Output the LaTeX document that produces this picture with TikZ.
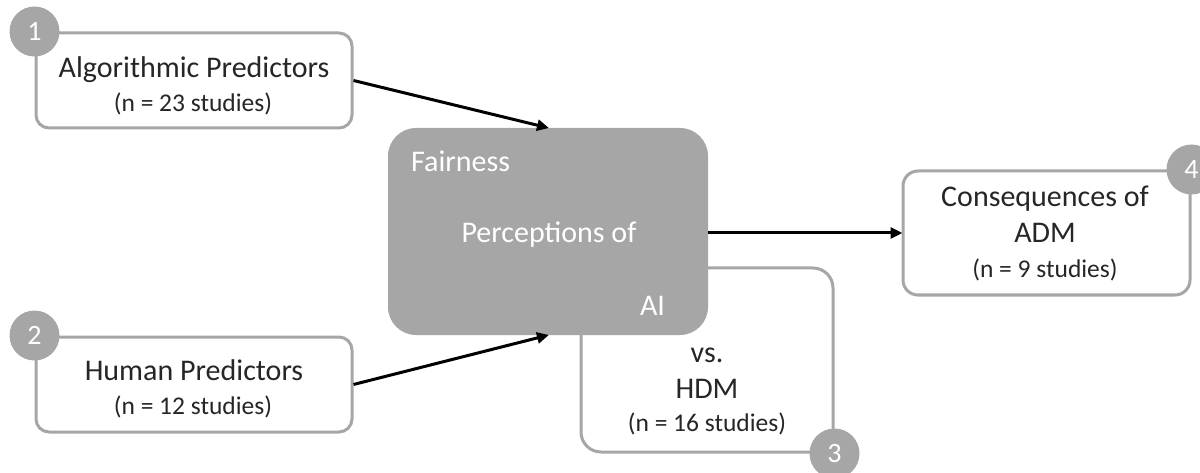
\documentclass[tikz,border=0pt]{standalone}
\usepackage{fontspec}
\setmainfont{Carlito}
\usetikzlibrary{arrows.meta}
\definecolor{boxgray}{HTML}{A6A6A6}
\definecolor{txt}{HTML}{262626}
\tikzset{
  gbox/.style={draw=boxgray, line width=3pt, fill=white, rounded corners=13pt, inner sep=0pt},
  cbox/.style={fill=boxgray, draw=none, rounded corners=28pt, inner sep=0pt},
  numc/.style={circle, fill=boxgray, draw=none, minimum size=50pt, inner sep=0pt,
    text=white, font=\fontsize{28}{32}\selectfont},
  big/.style={anchor=base, inner sep=0pt, text=txt, font=\fontsize{30}{35}\selectfont},
  small/.style={anchor=base, inner sep=0pt, text=txt, font=\fontsize{25.5}{30}\selectfont},
  wtxt/.style={anchor=base, inner sep=0pt, text=white, font=\fontsize{30}{35}\selectfont},
  conn/.style={line width=3pt, -{Triangle[length=12pt,width=11pt]}, shorten >=-1pt},
}
\begin{document}
\begin{tikzpicture}[x=1pt,y=-1pt]
\useasboundingbox (0,0) rectangle (1200,473);
% box 3 (behind the central box)
\node[gbox, rounded corners=20pt, minimum width=252pt, minimum height=184pt] (b3) at (707,360) {};
\node[numc] (n3) at (b3.south east) {3};
% central box
\node[cbox, minimum width=320pt, minimum height=207pt] (c) at (548,231.5) {};
\node[wtxt, anchor=base west] (cf) at (411,172) {Fairness};
\node[wtxt] (cp) at (549,243) {Perceptions of};
\node[wtxt] (ca) at (652.5,315) {AI};
% box 3 texts
\node[big] (t3a) at (707,362) {vs.};
\node[big] (t3b) at (707,398) {HDM};
\node[small] (t3c) at (707,431) {(n = 16 studies)};
% box 1
\node[gbox, minimum width=316pt, minimum height=95pt] (b1) at (194,80.5) {};
\node[numc] (n1) at (b1.north west) {1};
\node[big] (t1a) at (194,78) {Algorithmic Predictors};
\node[small] (t1b) at (193,112) {(n = 23 studies)};
% box 2
\node[gbox, minimum width=316pt, minimum height=95pt] (b2) at (194,384.5) {};
\node[numc] (n2) at (b2.north west) {2};
\node[big] (t2a) at (194,380) {Human Predictors};
\node[small] (t2b) at (193,414) {(n = 12 studies)};
% box 4
\node[gbox, rounded corners=15pt, minimum width=287pt, minimum height=124pt] (b4) at (1046.5,233) {};
\node[numc] (n4) at (b4.north east) {4};
\node[big] (t4a) at (1045,207) {Consequences of};
\node[big] (t4b) at (1045,243) {ADM};
\node[small] (t4c) at (1045,278) {(n = 9 studies)};
% connectors
\draw[conn] (b1.east) -- (c.north);
\draw[conn] (b2.east) -- (c.south);
\draw[conn] (c.east |- 0,233) coordinate (ce) -- (ce -| b4.west);
\end{tikzpicture}
\end{document}
